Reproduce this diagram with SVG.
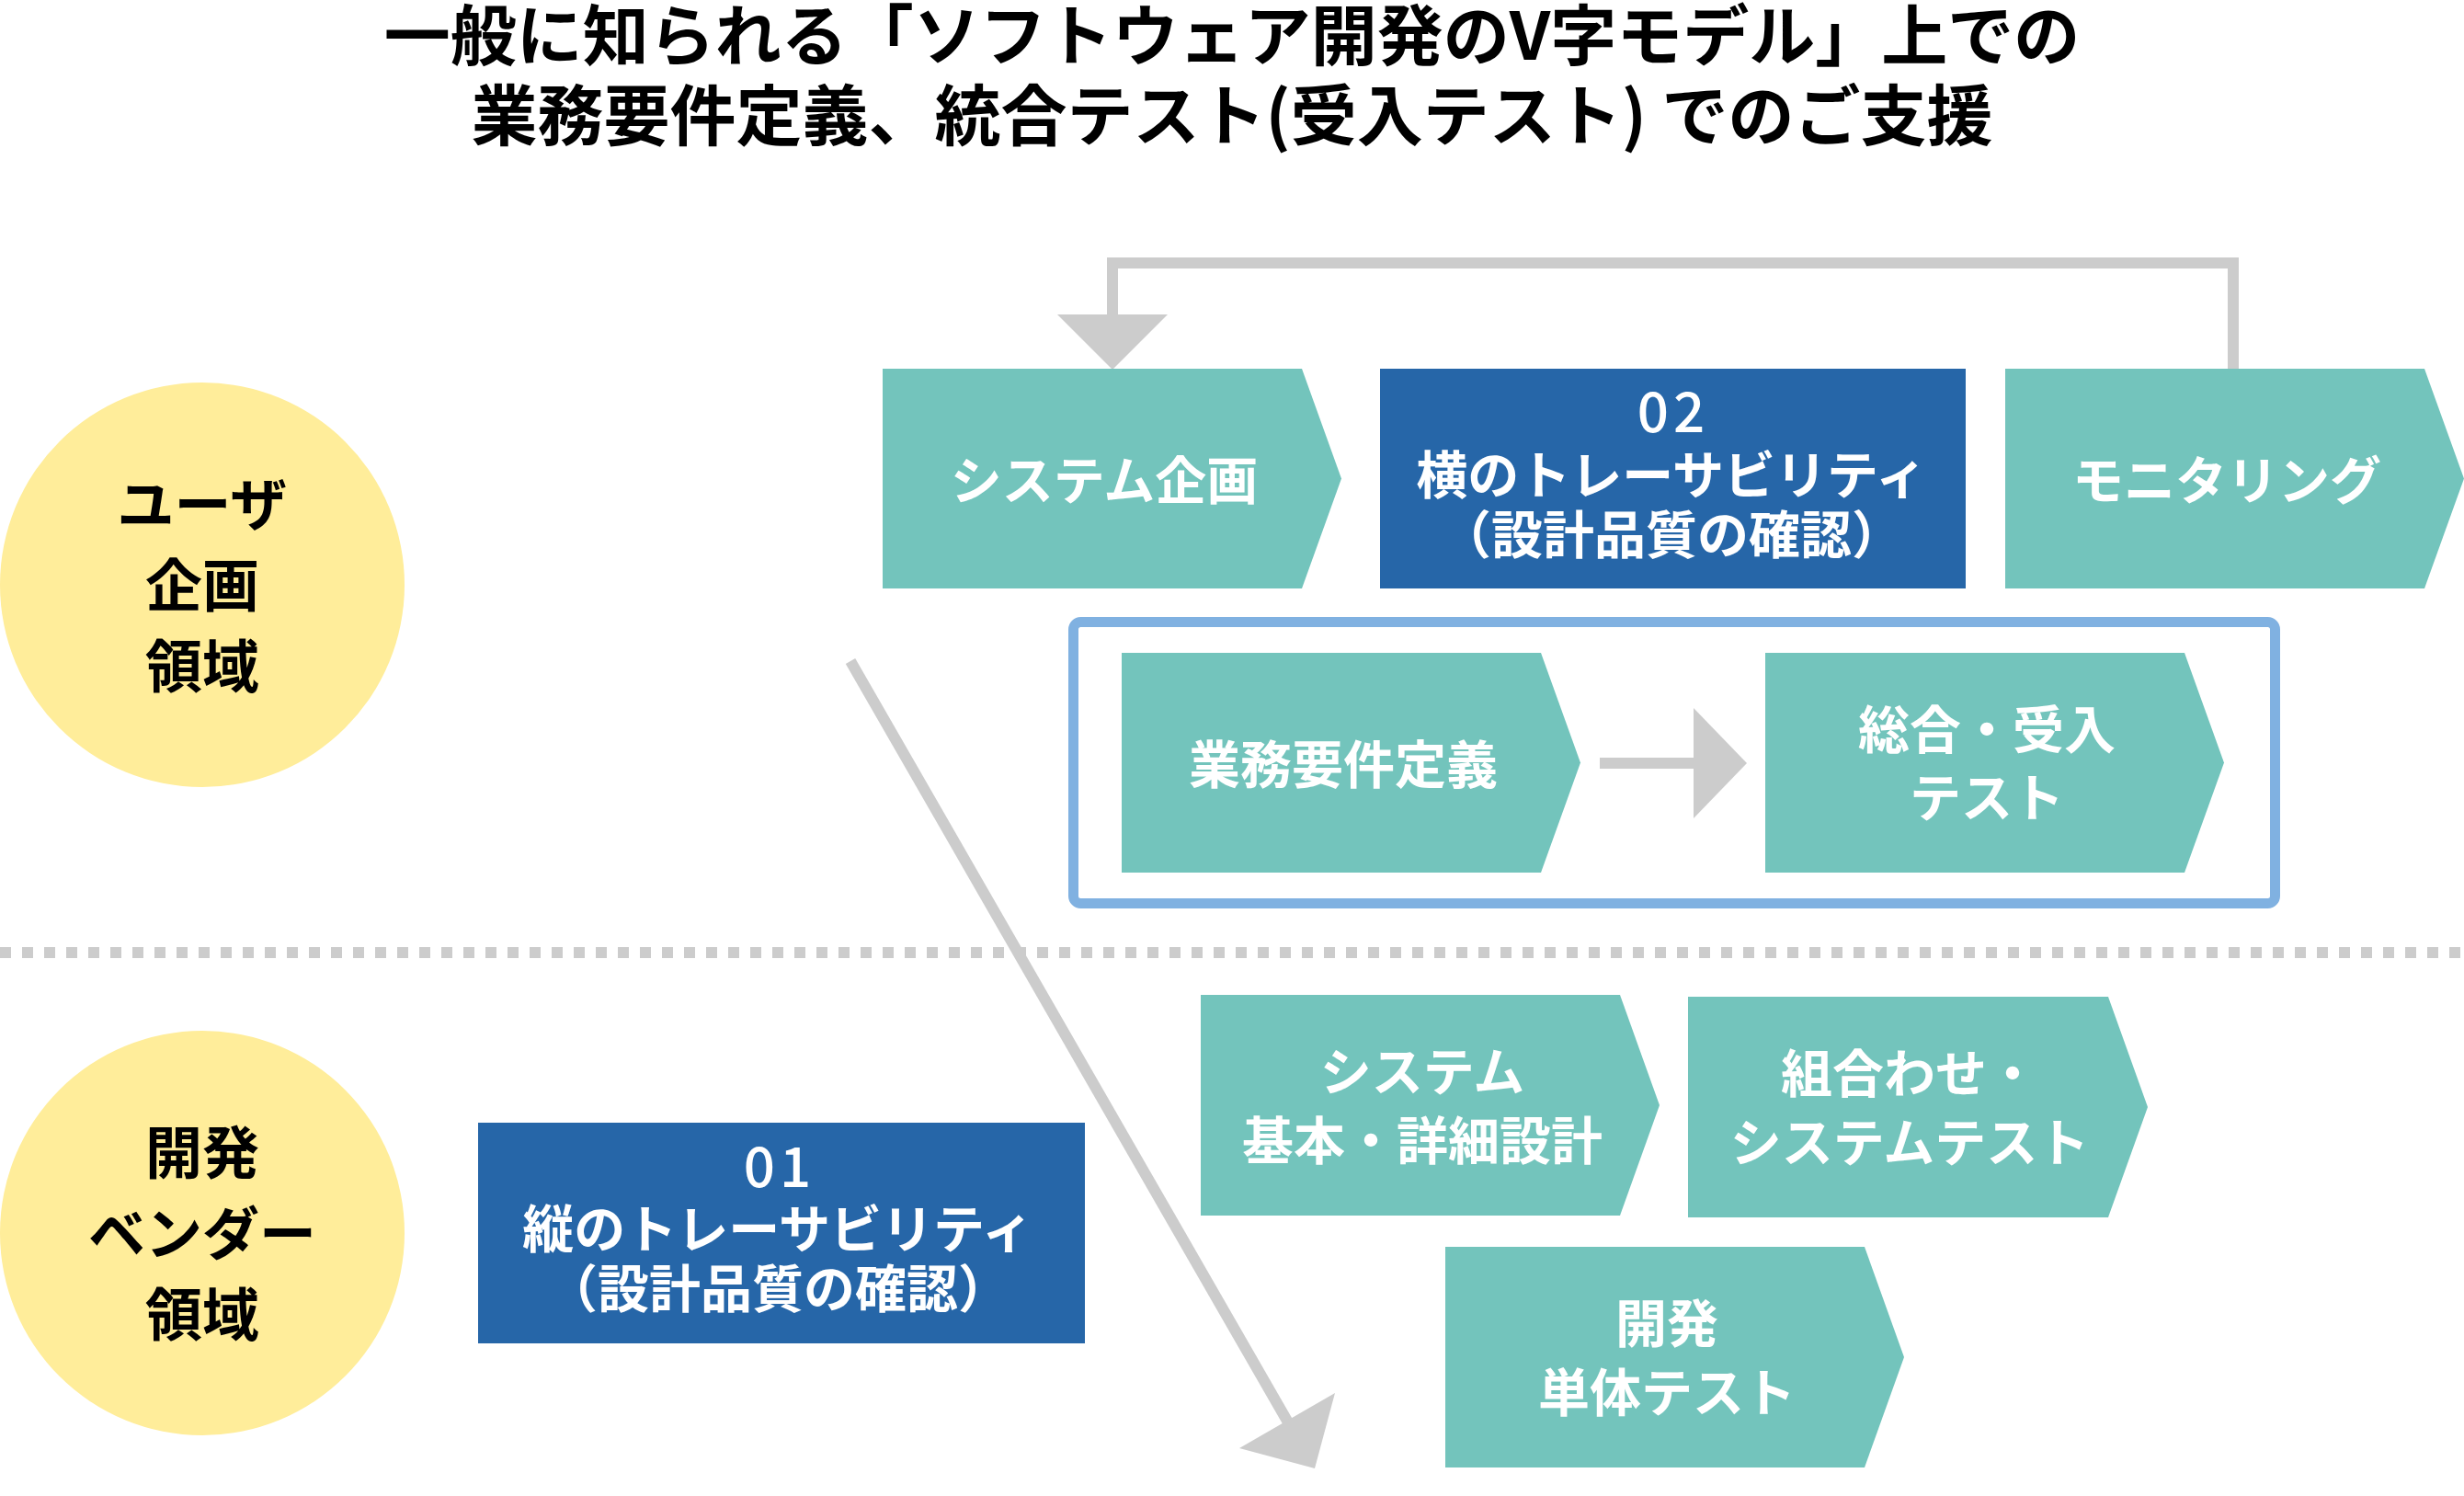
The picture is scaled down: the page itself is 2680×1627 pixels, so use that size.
<svg xmlns="http://www.w3.org/2000/svg" width="2680" height="1627" viewBox="0 0 2680 1627">
<defs>
<style>
text{font-family:"Noto Sans CJK JP","Noto Sans",sans-serif;font-weight:700;text-anchor:middle}
.title{font-size:72px;fill:#000}
.circ{fill:#FFED9A}
.ctext{font-size:62px;fill:#000}
.teal{fill:#73C4BC}
.navy{fill:#2666A8}
.btext{font-size:56px;fill:#fff}
.num{font-size:60px;fill:#fff;font-weight:500;letter-spacing:5px}
.conn{fill:none;stroke:#CCCCCC;stroke-width:12}
.head{fill:#CCCCCC}
</style>
</defs>
<rect width="2680" height="1627" fill="#fff"/>

<g id="title">
<text class="title" x="1340" y="65">一般に知られる「ソフトウェア開発のV字モデル」上での</text>
<text class="title" x="1340" y="152">業務要件定義、統合テスト(受入テスト) でのご支援</text>
</g>

<g id="divider">
<line x1="0" y1="1036" x2="2680" y2="1036" stroke="#CCCCCC" stroke-width="12" stroke-dasharray="12 12"/>
</g>

<g id="group-frame">
<rect x="1167.5" y="676.5" width="1307" height="306" rx="8" fill="none" stroke="#80B1E1" stroke-width="11"/>
</g>

<g id="connectors">
<path class="conn" d="M2429,401 V286 H1210 V343"/>
<polygon class="head" points="1150,342 1270,342 1210,402"/>
<line class="conn" x1="1740" y1="830" x2="1843" y2="830"/>
<polygon class="head" points="1842,770 1842,890 1900,830"/>
<line class="conn" x1="925" y1="719" x2="1401" y2="1547"/>
<polygon class="head" points="1348,1575 1452,1515 1430,1597"/>
</g>

<g id="user-area">
<circle class="circ" cx="220" cy="636" r="220"/>
<text class="ctext" x="220" y="572">ユーザ</text>
<text class="ctext" x="220" y="660">企画</text>
<text class="ctext" x="220" y="748">領域</text>
</g>

<g id="vendor-area">
<circle class="circ" cx="220" cy="1341" r="220"/>
<text class="ctext" x="220" y="1277">開発</text>
<text class="ctext" x="220" y="1365">ベンダー</text>
<text class="ctext" x="220" y="1453">領域</text>
</g>

<g id="system-planning">
<polygon class="teal" points="960,401 1416,401 1459,520.5 1416,640 960,640"/>
<text class="btext" x="1201" y="543">システム企画</text>
</g>

<g id="trace-02">
<rect class="navy" x="1501" y="401" width="637" height="239"/>
<text class="num" x="1820" y="470">02</text>
<text class="btext" x="1818" y="537">横のトレーサビリティ</text>
<text class="btext" x="1818" y="602">（設計品質の確認）</text>
</g>

<g id="monitoring">
<polygon class="teal" points="2181,401 2637,401 2680,520.5 2637,640 2181,640"/>
<text class="btext" x="2422" y="543">モニタリング</text>
</g>

<g id="requirements">
<polygon class="teal" points="1220,710 1676,710 1719,829.5 1676,949 1220,949"/>
<text class="btext" x="1461" y="852">業務要件定義</text>
</g>

<g id="acceptance-test">
<polygon class="teal" points="1920,710 2376,710 2419,829.5 2376,949 1920,949"/>
<text class="btext" x="2161" y="814">総合・受入</text>
<text class="btext" x="2161" y="888">テスト</text>
</g>

<g id="system-design">
<polygon class="teal" points="1306,1082 1762,1082 1805,1202 1762,1322 1306,1322"/>
<text class="btext" x="1547" y="1186">システム</text>
<text class="btext" x="1547" y="1261">基本・詳細設計</text>
</g>

<g id="integration-test">
<polygon class="teal" points="1836,1084 2293,1084 2336,1204 2293,1324 1836,1324"/>
<text class="btext" x="2077" y="1188">組合わせ・</text>
<text class="btext" x="2077" y="1263">システムテスト</text>
</g>

<g id="unit-test">
<polygon class="teal" points="1572,1356 2028,1356 2071,1476 2028,1596 1572,1596"/>
<text class="btext" x="1813" y="1460">開発</text>
<text class="btext" x="1813" y="1535">単体テスト</text>
</g>

<g id="trace-01">
<rect class="navy" x="520" y="1221" width="660" height="240"/>
<text class="num" x="848" y="1291">01</text>
<text class="btext" x="846" y="1357">縦のトレーサビリティ</text>
<text class="btext" x="846" y="1422">（設計品質の確認）</text>
</g>
</svg>
